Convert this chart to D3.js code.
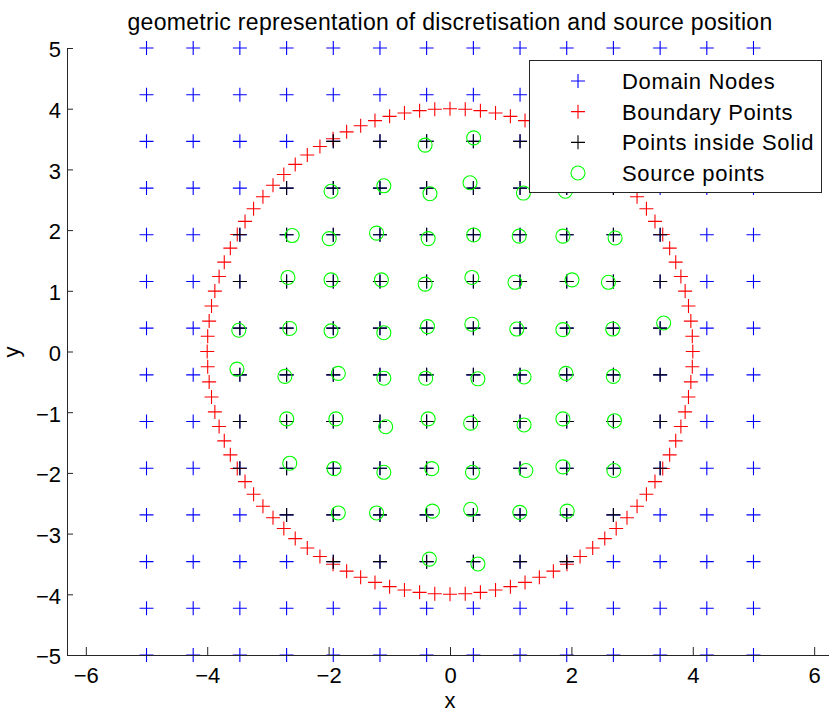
<!DOCTYPE html>
<html>
<head>
<meta charset="utf-8">
<script src="https://cdn.jsdelivr.net/npm/d3@7"></script>
<style>
  html, body { margin: 0; padding: 0; background: #fff; }
  svg { display: block; }
  text { font-family: "Liberation Sans", Arial, Helvetica, sans-serif; fill: #000; }
</style>
</head>
<body>
<svg id="chart" width="829" height="713"></svg>
<script>
// Regular discretisation grid (same coordinates along x and y)
const gridValues = [-5, -4.231, -3.462, -2.692, -1.923, -1.154, -0.385,
                    0.385, 1.154, 1.923, 2.692, 3.462, 4.231, 5];

// Radius of the solid cylinder
const solidRadius = 4;

// Boundary points around the solid (100 points, counter-clockwise from +x)
const boundaryX = [
  4.000, 3.992, 3.968, 3.929, 3.874, 3.804, 3.719, 3.619, 3.505, 3.377, 3.236, 3.082, 2.916,
  2.738, 2.550, 2.351, 2.143, 1.927, 1.703, 1.472, 1.236, 0.995, 0.750, 0.501, 0.251,
  0.000, -0.251, -0.501, -0.750, -0.995, -1.236, -1.472, -1.703, -1.927, -2.143, -2.351, -2.550,
  -2.738, -2.916, -3.082, -3.236, -3.377, -3.505, -3.619, -3.719, -3.804, -3.874, -3.929, -3.968, -3.992,
  -4.000, -3.992, -3.968, -3.929, -3.874, -3.804, -3.719, -3.619, -3.505, -3.377, -3.236, -3.082, -2.916,
  -2.738, -2.550, -2.351, -2.143, -1.927, -1.703, -1.472, -1.236, -0.995, -0.750, -0.501, -0.251,
  0.000, 0.251, 0.501, 0.750, 0.995, 1.236, 1.472, 1.703, 1.927, 2.143, 2.351, 2.550,
  2.738, 2.916, 3.082, 3.236, 3.377, 3.505, 3.619, 3.719, 3.804, 3.874, 3.929, 3.968, 3.992
];
const boundaryY = [
  0.000, 0.251, 0.501, 0.750, 0.995, 1.236, 1.472, 1.703, 1.927, 2.143, 2.351, 2.550, 2.738,
  2.916, 3.082, 3.236, 3.377, 3.505, 3.619, 3.719, 3.804, 3.874, 3.929, 3.968, 3.992,
  4.000, 3.992, 3.968, 3.929, 3.874, 3.804, 3.719, 3.619, 3.505, 3.377, 3.236, 3.082,
  2.916, 2.738, 2.550, 2.351, 2.143, 1.927, 1.703, 1.472, 1.236, 0.995, 0.750, 0.501, 0.251,
  0.000, -0.251, -0.501, -0.750, -0.995, -1.236, -1.472, -1.703, -1.927, -2.143, -2.351, -2.550, -2.738,
  -2.916, -3.082, -3.236, -3.377, -3.505, -3.619, -3.719, -3.804, -3.874, -3.929, -3.968, -3.992,
  -4.000, -3.992, -3.968, -3.929, -3.874, -3.804, -3.719, -3.619, -3.505, -3.377, -3.236, -3.082,
  -2.916, -2.738, -2.550, -2.351, -2.143, -1.927, -1.703, -1.472, -1.236, -0.995, -0.750, -0.501, -0.251
];

// Source point positions (slightly offset from the interior nodes)
const sourceX = [
  -0.41, 0.39,
  -1.96, -1.09, -0.33, 0.33, 1.21, 1.90,
  -2.60, -1.99, -1.21, -0.36, 0.39, 1.14, 1.86, 2.72,
  -2.67, -1.96, -1.13, -0.41, 0.36, 1.07, 2.01, 2.61,
  -3.48, -2.64, -1.96, -1.09, -0.37, 0.36, 1.10, 1.86, 2.68, 3.52,
  -3.51, -2.72, -1.84, -1.09, -0.40, 0.46, 1.22, 1.91, 2.69,
  -2.69, -1.88, -1.06, -0.36, 0.34, 1.22, 1.86, 2.71,
  -2.64, -1.91, -1.09, -0.30, 0.37, 1.25, 1.86, 2.70,
  -1.84, -1.21, -0.29, 0.34, 1.15, 1.93,
  -0.34, 0.46
];
const sourceY = [
  3.40, 3.52,
  2.64, 2.73, 2.60, 2.78, 2.61, 2.64,
  1.91, 1.86, 1.95, 1.86, 1.92, 1.90, 1.90, 1.87,
  1.22, 1.18, 1.18, 1.11, 1.22, 1.14, 1.18, 1.14,
  0.35, 0.38, 0.34, 0.31, 0.41, 0.45, 0.37, 0.36, 0.37, 0.47,
  -0.29, -0.41, -0.36, -0.44, -0.44, -0.45, -0.42, -0.36, -0.41,
  -1.11, -1.11, -1.24, -1.11, -1.18, -1.21, -1.11, -1.14,
  -1.84, -1.93, -1.99, -1.93, -1.99, -1.96, -1.90, -1.96,
  -2.66, -2.66, -2.63, -2.60, -2.65, -2.63,
  -3.42, -3.50
];

// Axis ticks
const xTicks = [-6, -4, -2, 0, 2, 4, 6];
const yTicks = [-5, -4, -3, -2, -1, 0, 1, 2, 3, 4, 5];

// Legend entries
const legendLabels = ["Domain Nodes", "Boundary Points", "Points inside Solid", "Source points"];

// ---------------------------------------------------------------------------
const svg = d3.select("#chart");
const plot = { left: 67, right: 833, top: 48, bottom: 655 };

const x = d3.scaleLinear().domain([-6.31, 6.31]).range([plot.left, plot.right]);
const y = d3.scaleLinear().domain([-5, 5]).range([plot.bottom, plot.top]);

const plusPath = "M-7,0H7M0,-7V7";
const colors = { domain: "#0000ff", boundary: "#ff0000", solid: "#000000", source: "#00ff00" };

// Domain nodes: every grid crossing
const domainNodes = [];
gridValues.forEach(gy => gridValues.forEach(gx => domainNodes.push([gx, gy])));

// Nodes lying inside the solid
const solidNodes = domainNodes.filter(([gx, gy]) => gx * gx + gy * gy < solidRadius * solidRadius);

const boundary = boundaryX.map((bx, i) => [bx, boundaryY[i]]);
const sources = sourceX.map((sx, i) => [sx, sourceY[i]]);

const marks = svg.append("g");

function plusLayer(data, color) {
  marks.append("g")
    .selectAll("path")
    .data(data)
    .join("path")
    .attr("transform", d => `translate(${x(d[0])},${y(d[1])})`)
    .attr("d", plusPath)
    .attr("fill", "none")
    .attr("stroke", color)
    .attr("stroke-width", 1.1);
}

plusLayer(domainNodes, colors.domain);
plusLayer(boundary, colors.boundary);
plusLayer(solidNodes, colors.solid);

marks.append("g")
  .selectAll("circle")
  .data(sources)
  .join("circle")
  .attr("cx", d => x(d[0]))
  .attr("cy", d => y(d[1]))
  .attr("r", 7)
  .attr("fill", "none")
  .attr("stroke", colors.source)
  .attr("stroke-width", 1.1);

// Axes (left and bottom only, ticks pointing inward)
const axisColor = "#262626";
const fmt = d3.format("d");

const xAxis = svg.append("g")
  .attr("transform", `translate(0,${plot.bottom})`)
  .call(d3.axisBottom(x).tickValues(xTicks).tickFormat(fmt)
    .tickSizeInner(-8).tickSizeOuter(0).tickPadding(12.5));

const yAxis = svg.append("g")
  .attr("transform", `translate(${plot.left},0)`)
  .call(d3.axisLeft(y).tickValues(yTicks).tickFormat(fmt)
    .tickSizeInner(-6).tickSizeOuter(0).tickPadding(6));

[xAxis, yAxis].forEach(g => {
  g.attr("font-size", null).attr("font-family", null);
  g.select(".domain").attr("stroke", axisColor).attr("stroke-width", 1);
  g.selectAll(".tick line").attr("stroke", axisColor).attr("stroke-width", 1);
  g.selectAll(".tick text").attr("fill", "#000").style("font-size", "22px");
});
yAxis.selectAll(".tick text").attr("dy", "0.4em");

// Titles
svg.append("text")
  .attr("x", (plot.left + plot.right) / 2)
  .attr("y", 30)
  .attr("text-anchor", "middle")
  .style("font-size", "23px")
  .style("letter-spacing", "0.3px")
  .text("geometric representation of discretisation and source position");

svg.append("text")
  .attr("x", 450)
  .attr("y", 708)
  .attr("text-anchor", "middle")
  .style("font-size", "22px")
  .text("x");

svg.append("text")
  .attr("transform", "translate(19,352) rotate(-90)")
  .attr("text-anchor", "middle")
  .style("font-size", "22px")
  .text("y");

// Legend
const legend = svg.append("g");
legend.append("rect")
  .attr("x", 529.5).attr("y", 60.5)
  .attr("width", 292).attr("height", 132)
  .attr("fill", "#fff")
  .attr("stroke", axisColor)
  .attr("stroke-width", 1);

const rowY = d3.scalePoint().domain(legendLabels).range([81, 173]);
const legendColors = [colors.domain, colors.boundary, colors.solid, colors.source];

legendLabels.forEach((label, i) => {
  const cy = rowY(label);
  if (i < 3) {
    legend.append("path")
      .attr("transform", `translate(578,${cy})`)
      .attr("d", plusPath)
      .attr("fill", "none")
      .attr("stroke", legendColors[i])
      .attr("stroke-width", 1.1);
  } else {
    legend.append("circle")
      .attr("cx", 578).attr("cy", cy).attr("r", 7)
      .attr("fill", "none")
      .attr("stroke", legendColors[i])
      .attr("stroke-width", 1.1);
  }
  legend.append("text")
    .attr("x", 622)
    .attr("y", cy + 8)
    .style("font-size", "22px")
    .style("letter-spacing", "0.65px")
    .text(label);
});
</script>
</body>
</html>
